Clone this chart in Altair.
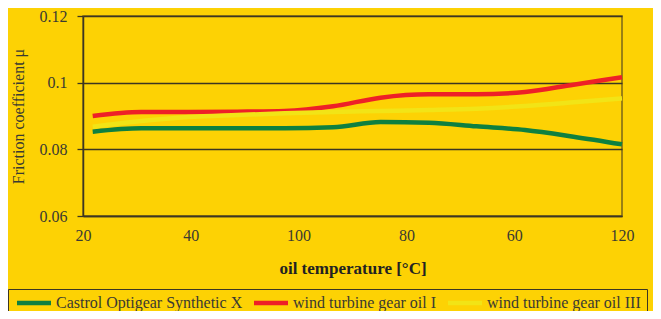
import altair as alt
import pandas as pd

# category labels shown along the x axis (in the order printed on the chart)
x_tick_labels = ["20", "40", "100", "80", "60", "120"]
# measurement positions along the x axis (axis units, 0 = first label, 5 = last label)
x_positions = [0.09, 0.54, 0.98, 1.43, 1.87, 2.32, 2.76, 3.21, 3.65, 4.10, 4.55, 5.00]

series_names = ["Castrol Optigear Synthetic X", "wind turbine gear oil I", "wind turbine gear oil III"]
castrol = [0.0853, 0.0863, 0.0863, 0.0863, 0.0863, 0.0866, 0.0882, 0.0880, 0.0869, 0.0858, 0.0838, 0.0815]
oil_1 = [0.0900, 0.0912, 0.0912, 0.0913, 0.0915, 0.0929, 0.0955, 0.0965, 0.0965, 0.0972, 0.0994, 0.1016]
oil_3 = [0.0868, 0.0885, 0.0897, 0.0903, 0.0908, 0.0912, 0.0915, 0.0918, 0.0922, 0.0930, 0.0941, 0.0953]
series_colors = ["#0E8040", "#EE2027", "#F2E416"]

rows = []
for name, vals in zip(series_names, [castrol, oil_1, oil_3]):
    for i, (xp, v) in enumerate(zip(x_positions, vals)):
        rows.append({"series": name, "x": xp, "mu": v, "order": i})
df = pd.DataFrame(rows)

label_expr = "[" + ",".join("'%s'" % s for s in x_tick_labels) + "][round(datum.value)]"

FONT = "Liberation Serif"
TXT = "#3a3a32"
LINE = "#3c3622"

chart = (
    alt.Chart(df)
    .mark_line(strokeWidth=4.5, interpolate="monotone")
    .encode(
        x=alt.X(
            "x:Q",
            scale=alt.Scale(domain=[0, 5], nice=False, zero=False),
            axis=alt.Axis(
                title="oil temperature [°C]",
                values=[0, 1, 2, 3, 4, 5],
                labelExpr=label_expr,
                grid=False,
                ticks=False,
                labelPadding=11,
                labelFontSize=16,
                labelColor=TXT,
                labelFont=FONT,
                titleFont=FONT,
                titleFontSize=17,
                titleFontWeight="bold",
                titleColor="#222222",
                titleBaseline="middle",
                titleY=52,
                domainColor=LINE,
                domainWidth=1.5,
                labelFlush=False,
            ),
        ),
        y=alt.Y(
            "mu:Q",
            scale=alt.Scale(domain=[0.06, 0.12], nice=False, zero=False),
            axis=alt.Axis(
                title="Friction coefficient μ",
                values=[0.06, 0.08, 0.1, 0.12],
                format=".2~f",
                grid=True,
                gridColor=LINE,
                gridWidth=1.3,
                tickColor=LINE,
                tickSize=6,
                tickWidth=1.3,
                labelPadding=10,
                labelFontSize=16,
                labelColor=TXT,
                labelFont=FONT,
                titleFont=FONT,
                titleFontSize=16,
                titleFontWeight="normal",
                titleColor=TXT,
                titleBaseline="middle",
                titleX=-65,
                titleY=100,
                domainColor=LINE,
                domainWidth=1.5,
            ),
        ),
        color=alt.Color(
            "series:N",
            scale=alt.Scale(domain=series_names, range=series_colors),
            sort=series_names,
            legend=alt.Legend(
                title=None,
                orient="none",
                direction="horizontal",
                legendX=-75,
                legendY=273,
                symbolType="M-1,0H5.8",
                symbolSize=100,
                symbolStrokeWidth=4.5,
                labelFont=FONT,
                labelFontSize=16,
                labelColor=TXT,
                labelOffset=26,
                columnPadding=2,
                padding=6,
                strokeColor=LINE,
                labelLimit=400,
            ),
        ),
        order="order:Q",
    )
    .properties(
        width=539,
        height=200,
        background="#FDD204",
        padding={"left": 75, "top": 8, "right": 31, "bottom": 95},
        autosize=alt.AutoSizeParams(type="none"),
    )
    .configure_view(stroke="#7a6618", strokeWidth=1.5)
)

chart.save("out.html", embed_options={"renderer": "svg", "actions": False})
